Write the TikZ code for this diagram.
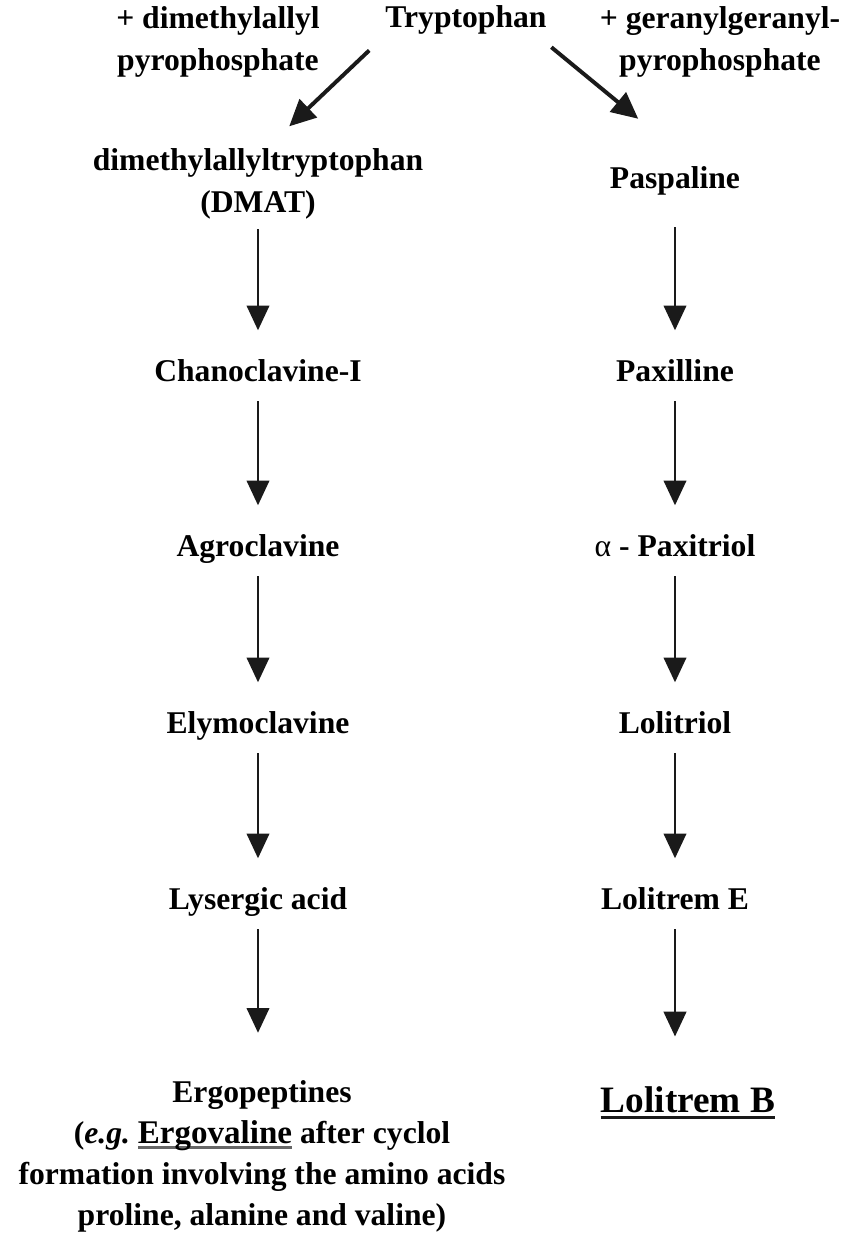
\documentclass[tikz,border=0pt]{standalone}
\usepackage{fontspec}
\setmainfont{Liberation Serif}
\usepackage{tikz}
\usetikzlibrary{arrows.meta,positioning}
\usepackage{xcolor}
\definecolor{pathblack}{RGB}{26,26,26}
\tikzstyle{arrow} = [line width=2pt,-{Triangle[width=0.56cm,length=0.62cm]},color=pathblack,shorten <=0.3cm,shorten >=0.68cm]
\tikzstyle{branch} = [line width=2.8pt,-{Triangle[width=0.62cm,length=0.66cm]},color=pathblack]
\tikzstyle{cmpd} = [inner sep=0pt,font=\fontsize{22.5}{29.9}\selectfont\bfseries,text height=0.58cm,text depth=0.2cm]
\tikzstyle{block} = [inner sep=0pt,font=\fontsize{22.5}{29.9}\selectfont\bfseries,align=center]
\newcommand{\thickuline}[1]{\setbox0=\hbox{#1}\rlap{\textcolor{black!60}{\rule[-0.16em]{\wd0}{0.09em}}}\box0}

\begin{document}
\begin{tikzpicture}
\useasboundingbox (0,0) rectangle (21.175,-30.85);

% Starting point and the two added precursors
\node[cmpd,anchor=base] (tryp) at (11.65,-0.675) {Tryptophan};
\node[block] (dmapp) at (5.45,-1.04) {+ dimethylallyl\\pyrophosphate};
\node[block] (ggpp) at (18.0,-1.04) {+ geranylgeranyl-\\pyrophosphate};

% Ergot alkaloid branch
\node[block] (dmat) at (6.45,-4.6) {dimethylallyltryptophan\\(DMAT)};
\node[cmpd,anchor=base] (chano) at (6.45,-9.525) {Chanoclavine-I};
\node[cmpd,anchor=base] (agro) at (6.45,-13.9) {Agroclavine};
\node[cmpd,anchor=base] (elymo) at (6.45,-18.325) {Elymoclavine};
\node[cmpd,anchor=base] (lys) at (6.45,-22.725) {Lysergic acid};
\node[block,anchor=north,font=\fontsize{22.5}{29.2}\selectfont\bfseries] (ergo) at (6.55,-27.0) {Ergopeptines\\(\textit{e.g.}\ {\fontsize{23.5}{29.2}\selectfont\bfseries\thickuline{Ergovaline}} after cyclol\\formation involving the amino acids\\proline, alanine and valine)};

% Indole-diterpene branch
\node[cmpd,anchor=base] (pasp) at (16.875,-4.7) {Paspaline};
\node[cmpd,anchor=base] (pax) at (16.875,-9.525) {Paxilline};
\node[cmpd,anchor=base] (paxt) at (16.875,-13.9) {{\mdseries α} - Paxitriol};
\node[cmpd,anchor=base] (lolt) at (16.875,-18.325) {Lolitriol};
\node[cmpd,anchor=base] (lole) at (16.875,-22.725) {Lolitrem E};
\node[cmpd,anchor=base,font=\fontsize{26.5}{32}\selectfont\bfseries,text height=0.7cm,text depth=0.25cm] (lolb) at (17.2,-27.8) {Lolitrem B};
\draw[line width=2pt,pathblack] ([yshift=-0.14cm]lolb.base west) -- ([yshift=-0.14cm]lolb.base east);

% Branching arrows
\draw[branch,shorten <=0.55cm,shorten >=0.8cm] (tryp.south west) -- ([xshift=0.2cm]dmat.north);
\draw[branch,shorten <=0.47cm,shorten >=1.8cm] ([xshift=-0.25cm]tryp.south east) -- ([xshift=0.47cm]pasp.north);

% Steps down each column
\draw[arrow,shorten <=0.24cm] (dmat) -- (chano);
\draw[arrow] (chano) -- (agro);
\draw[arrow] (agro) -- (elymo);
\draw[arrow] (elymo) -- (lys);
\draw[arrow,shorten >=1.18cm] (lys) -- (lys |- ergo.north);

\draw[arrow,shorten <=0.78cm] (pasp) -- (pax);
\draw[arrow] (pax) -- (paxt);
\draw[arrow] (paxt) -- (lolt);
\draw[arrow] (lolt) -- (lole);
\draw[arrow,shorten >=1.18cm] (lole) -- (lole |- lolb.north);
\end{tikzpicture}
\end{document}
